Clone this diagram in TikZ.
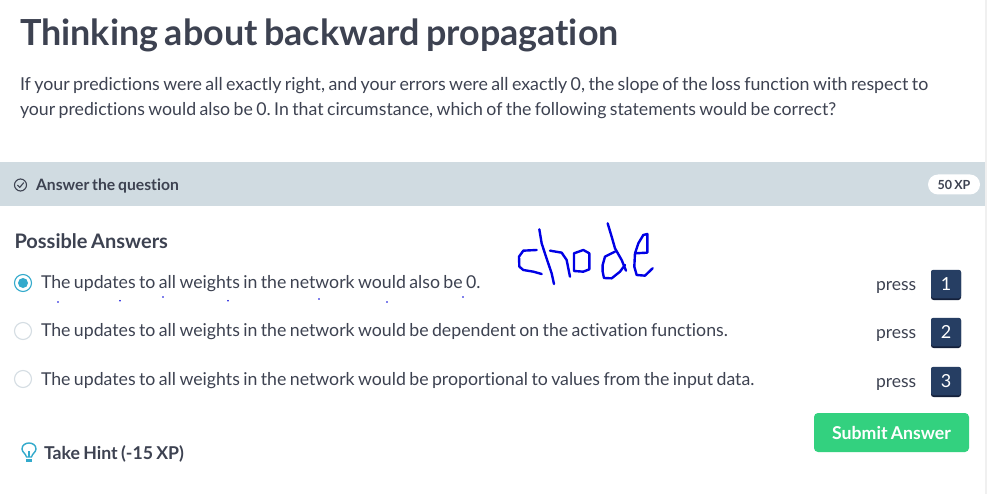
\documentclass[tikz,border=0pt]{standalone}
\usepackage{fontspec}
\setmainfont{Lato}[Ligatures=NoCommon,WordSpace=0.75]
\definecolor{ink}{HTML}{3D4251}
\definecolor{barbg}{HTML}{D0DBE1}
\definecolor{navy}{HTML}{263E63}
\definecolor{navyd}{HTML}{14203A}
\definecolor{teal}{HTML}{33AACC}
\definecolor{green1}{HTML}{33D17F}
\definecolor{radiog}{HTML}{D5DDE3}
\tikzset{
 txt/.style={anchor=base west,inner sep=0pt,outer sep=0pt,text=ink},
 ans/.style={txt,font=\frenchspacing\fontsize{17.72}{20}\selectfont},
 presslbl/.style={txt,font=\fontsize{17.5}{20}\selectfont},
 keycap/.style={fill=navy,rounded corners=2.5pt,minimum width=30pt,minimum height=28.5pt,inner sep=0pt,text=white,font=\fontsize{18}{20}\selectfont},
 radiooff/.style={circle,draw=radiog,line width=1.1pt,fill=white,minimum size=17pt,inner sep=0pt},
 ink stroke/.style={draw=blue!90!black,line width=2.4pt,line cap=round,line join=round},
 dotmark/.style={circle,fill=blue!85!black,minimum size=1.8pt,inner sep=0pt},
}
\begin{document}
\begin{tikzpicture}[x=1pt,y=-1pt]
\useasboundingbox (0,0) rectangle (987,494);
\fill[white] (0,0) rectangle (987,494);
\fill[black!6] (985,0) rectangle (987,494);
\node[txt,font=\fontsize{35.9}{40}\selectfont\bfseries] (title) at (20,46) {Thinking about backward propagation};
\node[txt,font=\frenchspacing\fontsize{17.8}{20}\selectfont] (q1) at (20,90.5) {If your predictions were all exactly right, and your errors were all exactly 0, the slope of the loss function with respect to};
\node[txt,font=\frenchspacing\fontsize{17.72}{20}\selectfont] (q2) at (20,115.5) {your predictions would also be 0. In that circumstance, which of the following statements would be correct?};
\fill[barbg] (0,162) rectangle (985,206);
\draw[ink,line width=1.1pt] (20.5,185) circle (6pt);
\draw[ink,line width=1.1pt,line cap=round,line join=round] (17.6,185.2) -- (19.8,187.4) -- (23.6,182.8);
\node[txt,font=\fontsize{15.7}{18}\selectfont\bfseries] (bar) at (36,190.7) {Answer the question};
\node[fill=white,rounded corners=10pt,minimum width=52pt,minimum height=20pt,inner sep=0pt,text=ink,font=\fontsize{12.5}{14}\selectfont\bfseries] (xp) at (954,184.5) {50 XP};
\node[txt,font=\fontsize{20}{24}\selectfont\bfseries] (pa) at (14.5,248) {Possible Answers};
\node[radiooff,draw=teal] (r1) at (23,283) {};
\fill[teal] (r1.center) circle (5pt);
\node[radiooff] (r2) at (23,331) {};
\node[radiooff] (r3) at (23,379) {};
\node[ans] (a1) at (41,288) {The updates to all weights in the network would also be 0.};
\node[ans] (a2) at (41,336) {The updates to all weights in the network would be dependent on the activation functions.};
\node[ans] (a3) at (41,385) {The updates to all weights in the network would be proportional to values from the input data.};
\node[presslbl] (p1) at (876,290) {press};
\node[presslbl] (p2) at (876,338) {press};
\node[presslbl] (p3) at (876,387) {press};
\foreach \n/\yy in {1/284,2/332,3/381}{
  \fill[navyd,rounded corners=2.5pt] (931,\yy-14) rectangle (961,\yy+16);
  \node[keycap] (k\n) at (946,\yy) {\n};
}
\node[dotmark] (d1) at (58,302) {};
\node[dotmark] (d2) at (120,300.7) {};
\node[dotmark] (d3) at (163,297) {};
\node[dotmark] (d4) at (228,300.7) {};
\node[dotmark] (d5) at (319,299) {};
\node[dotmark] (d6) at (387,302) {};
\node[dotmark] (d7) at (463,297) {};
\begin{scope}[shift={(440,210)},x=0.3333pt,y=-0.3333pt]
\draw[ink stroke] (290,120) -- (250,122) -- (237,140) -- (238,170) -- (250,180) -- (280,185) -- (305,192);
\draw[ink stroke] (298,58) -- (305,100) -- (318,140) -- (335,190) -- (342,222);
\draw[ink stroke] (330,122) -- (365,128) -- (380,150) -- (390,200);
\draw[ink stroke] (402,130) -- (430,120) -- (448,130) -- (448,178) -- (430,185) -- (402,183) -- cycle;
\draw[ink stroke] (503,40) -- (515,80) -- (525,115) -- (545,150) -- (558,182);
\draw[ink stroke] (525,125) -- (495,140) -- (488,165) -- (488,185) -- (492,204) -- (515,205) -- (540,185) -- (555,165);
\draw[ink stroke] (585,130) -- (622,128) -- (622,72) -- (610,75) -- (595,100) -- (585,130) -- (583,170) -- (590,195) -- (615,197) -- (638,175);
\end{scope}
\node[fill=green1,rounded corners=4pt,minimum width=155pt,minimum height=39pt,inner sep=0pt,text=white,font=\fontsize{17.7}{20}\selectfont\bfseries] (sub) at (891.5,432.5) {Submit Answer};
\draw[teal,line width=1.4pt,line join=round] (26.5,457) .. controls (26,454) and (22,452) .. (22,449) .. controls (22,441) and (36,441) .. (36,449) .. controls (36,452) and (32,454) .. (31.5,457) -- cycle;
\draw[teal,line width=1.2pt] (29,457) -- (29,451);
\fill[teal] (26,458.5) rectangle (32,462);
\node[txt,font=\fontsize{17.7}{20}\selectfont\bfseries] (hint) at (44,459) {Take Hint (-15 XP)};
\end{tikzpicture}
\end{document}
